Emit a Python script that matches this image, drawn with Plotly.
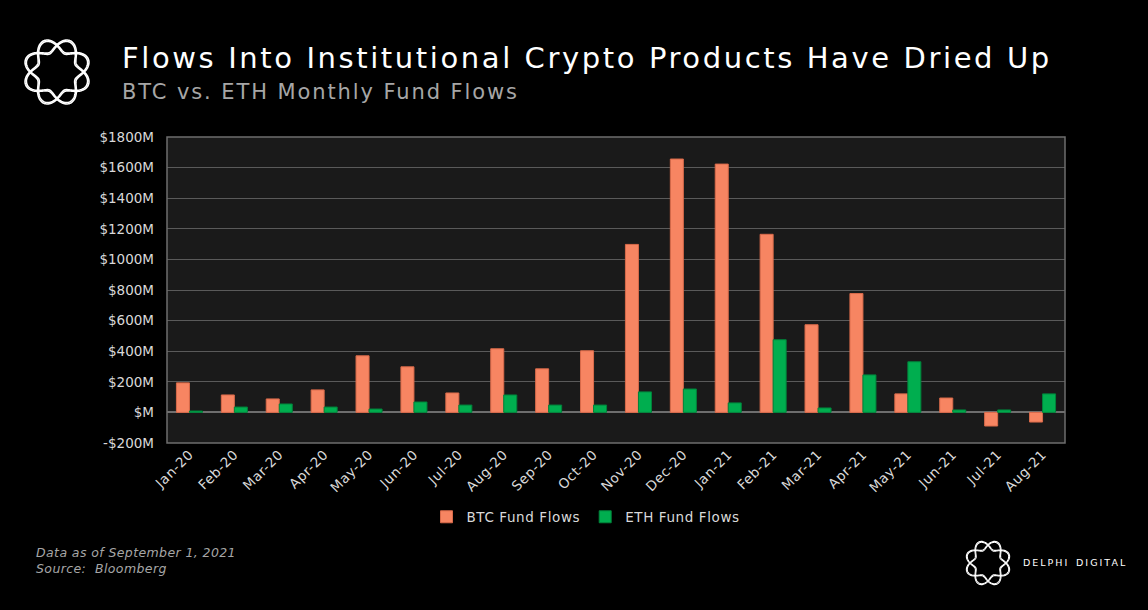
import numpy as np
import plotly.graph_objects as go

months = ["Jan-20", "Feb-20", "Mar-20", "Apr-20", "May-20", "Jun-20", "Jul-20", "Aug-20",
          "Sep-20", "Oct-20", "Nov-20", "Dec-20", "Jan-21", "Feb-21", "Mar-21", "Apr-21",
          "May-21", "Jun-21", "Jul-21", "Aug-21"]
btc_flows = [193, 114, 88, 147, 370, 298, 127, 416, 285, 403, 1098, 1656, 1623, 1164,
             573, 777, 121, 94, -89, -63]
eth_flows = [9, 35, 55, 35, 22, 68, 48, 114, 48, 48, 134, 153, 62, 475, 29, 245, 331,
             16, 16, 121]
ytick_vals = [-200, 0, 200, 400, 600, 800, 1000, 1200, 1400, 1600, 1800]
ytick_text = ["-$200M", "$M", "$200M", "$400M", "$600M", "$800M", "$1000M", "$1200M",
              "$1400M", "$1600M", "$1800M"]

W, H = 1148, 610
L, R, T, B = 167, 1065, 137, 443
FONT = "DejaVu Sans"


def px(x):
    return (x - L) / (R - L)


def py(y):
    return (B - y) / (B - T)


def spaced(text, sp):
    return f'<span style="letter-spacing:{sp}px">{text}</span>'


fig = go.Figure()
fig.add_trace(go.Bar(x=months, y=btc_flows, name=spaced("BTC Fund Flows", 0.6),
                     marker=dict(color="#f78562", line=dict(color="#d96a4a", width=1))))
fig.add_trace(go.Bar(x=months, y=eth_flows, name=spaced("ETH Fund Flows", 0.6),
                     marker=dict(color="#00ae4f", line=dict(color="#00833b", width=1))))


def logo_paths(cx, cy, rad, amp):
    paths = []
    th = np.linspace(0, 2 * np.pi, 241)
    for sgn in (1, -1):
        for off in (0.0, 0.09):
            r = rad + sgn * amp * np.sin(4 * th) + off * rad * 0.6
            xs = cx + r * np.cos(th)
            ys = cy + r * np.sin(th)
            d = "M " + " L ".join(f"{px(a):.5f},{py(b):.5f}" for a, b in zip(xs, ys)) + " Z"
            paths.append(d)
    return paths


shapes = []
for d in logo_paths(57, 72, 26, 6.5):
    shapes.append(dict(type="path", path=d, xref="paper", yref="paper",
                       line=dict(color="white", width=1.6)))
for d in logo_paths(988, 563, 17.5, 4.5):
    shapes.append(dict(type="path", path=d, xref="paper", yref="paper",
                       line=dict(color="white", width=1.1)))
shapes.append(dict(type="rect", xref="paper", yref="paper", x0=0, x1=1, y0=0, y1=1,
                   line=dict(color="#6e6e6e", width=1.5), layer="above"))

annotations = [
    dict(text=spaced("Flows Into Institutional Crypto Products Have Dried Up", 2.6),
         x=px(120), y=py(58),
         xref="paper", yref="paper", xanchor="left", yanchor="middle", showarrow=False,
         font=dict(family=FONT, size=29, color="white")),
    dict(text=spaced("BTC vs. ETH Monthly Fund Flows", 1.9), x=px(120), y=py(92),
         xref="paper", yref="paper", xanchor="left", yanchor="middle", showarrow=False,
         font=dict(family=FONT, size=21, color="#a6a6a6")),
    dict(text="<i>" + spaced("Data as of September 1, 2021", 0.4) + "</i>", x=px(34), y=py(552),
         xref="paper", yref="paper", xanchor="left", yanchor="middle", showarrow=False,
         font=dict(family=FONT, size=12.5, color="#a6a6a6")),
    dict(text="<i>" + spaced("Source:  Bloomberg", 0.4) + "</i>", x=px(34), y=py(568),
         xref="paper", yref="paper", xanchor="left", yanchor="middle", showarrow=False,
         font=dict(family=FONT, size=12.5, color="#a6a6a6")),
    dict(text=spaced("DELPHI\u2002DIGITAL", 2.0),
         x=px(1021), y=py(562),
         xref="paper", yref="paper", xanchor="left", yanchor="middle", showarrow=False,
         font=dict(family=FONT, size=9.5, color="white")),
]

fig.update_layout(
    width=W, height=H,
    margin=dict(l=L, r=W - R, t=T, b=H - B, autoexpand=False),
    paper_bgcolor="black", plot_bgcolor="#1a1a1a",
    barmode="group", bargap=0.42, bargroupgap=0,
    font=dict(family=FONT, color="#d9d9d9", size=13),
    showlegend=True,
    legend=dict(orientation="h", x=px(586), xanchor="center", y=py(517), yanchor="middle",
                font=dict(family=FONT, size=13.5, color="#d9d9d9"), itemwidth=30,
                bgcolor="rgba(0,0,0,0)"),
    xaxis=dict(tickangle=-45, tickfont=dict(family=FONT, size=13.5, color="#d9d9d9"),
               tickvals=months, ticktext=[spaced(m, 0.6) for m in months],
               showgrid=False, showline=False, ticks="", fixedrange=True),
    yaxis=dict(range=[-200, 1800], tickvals=ytick_vals, ticktext=ytick_text,
               tickfont=dict(family=FONT, size=13.5, color="#d9d9d9"),
               ticklabelstandoff=12,
               gridcolor="#5a5a5a", gridwidth=1.3, zeroline=True, zerolinecolor="#6e6e6e",
               zerolinewidth=1.5, showline=False, ticks="", ticklen=0, fixedrange=True),
    shapes=shapes, annotations=annotations,
)

fig.write_html("out.html", post_script="document.body.style.margin='0';",
               config={"displayModeBar": False})
